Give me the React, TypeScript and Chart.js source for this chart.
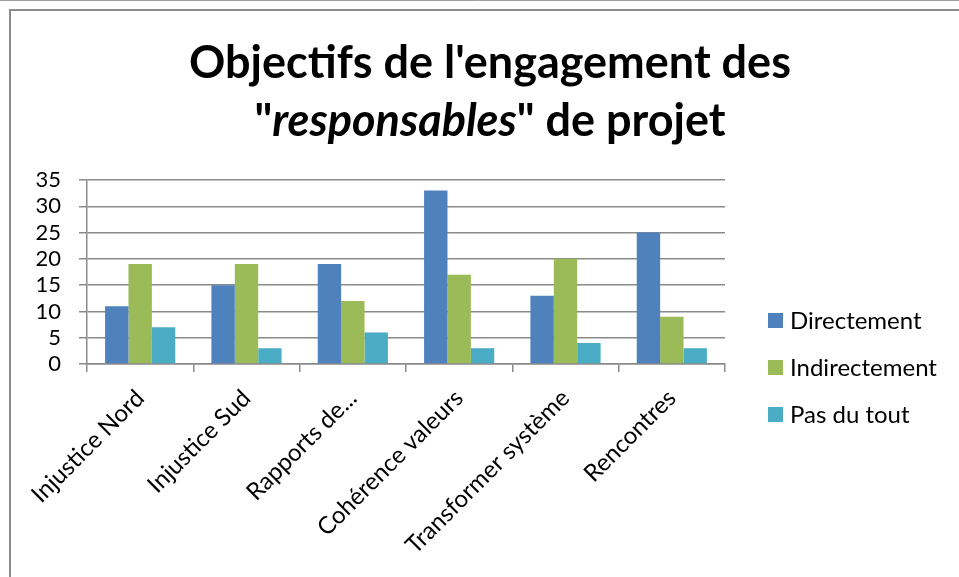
import { useEffect, useRef } from "react";
import { Chart, registerables } from "chart.js";

Chart.register(...registerables);

const categories = [
  "Injustice Nord",
  "Injustice Sud",
  "Rapports de...",
  "Cohérence valeurs",
  "Transformer système",
  "Rencontres",
];
const seriesNames = ["Directement", "Indirectement", "Pas du tout"];
const directement = [11, 15, 19, 33, 13, 25];
const indirectement = [19, 19, 12, 17, 20, 9];
const pasDuTout = [7, 3, 6, 3, 4, 3];
const seriesColors = ["#4F81BD", "#9BBB59", "#4BACC6"];

const yMax = 35;
const yStep = 5;

// Title lines, split in runs so one word can be set in italic
const titleLine1 = [{ text: "Objectifs de l'engagement des", italic: false }];
const titleLine2 = [
  { text: '"', italic: false },
  { text: "responsables", italic: true },
  { text: '" de projet', italic: false },
];

const FONT = "Lato, 'Open Sans', sans-serif";
const GRID = "#8a8a8a";

const framePlugin = {
  id: "frame",
  beforeDraw(chart: any) {
    const { ctx, width, height } = chart;
    ctx.save();
    ctx.fillStyle = "#ffffff";
    ctx.fillRect(0, 0, width, height);
    ctx.strokeStyle = "#a0a0a0";
    ctx.lineWidth = 1;
    ctx.beginPath();
    ctx.moveTo(0, 0.5);
    ctx.lineTo(width, 0.5);
    ctx.stroke();
    ctx.strokeStyle = "#8c8c8c";
    ctx.lineWidth = 2;
    ctx.beginPath();
    ctx.moveTo(10, height);
    ctx.lineTo(10, 10);
    ctx.lineTo(width, 10);
    ctx.stroke();
    ctx.restore();
  },
};

const titlePlugin = {
  id: "mixedTitle",
  afterDraw(chart: any) {
    const { ctx } = chart;
    const cx = 490;
    const size = 45;
    const drawLine = (runs: { text: string; italic: boolean }[], baseline: number) => {
      const fontFor = (it: boolean) => `${it ? "italic " : ""}bold ${size}px ${FONT}`;
      let total = 0;
      const widths = runs.map((r) => {
        ctx.font = fontFor(r.italic);
        const w = ctx.measureText(r.text).width;
        total += w;
        return w;
      });
      let x = cx - total / 2;
      runs.forEach((r, i) => {
        ctx.font = fontFor(r.italic);
        ctx.fillText(r.text, x, baseline);
        x += widths[i];
      });
    };
    ctx.save();
    ctx.fillStyle = "#000000";
    ctx.textAlign = "left";
    ctx.textBaseline = "alphabetic";
    drawLine(titleLine1, 78);
    drawLine(titleLine2, 136);
    ctx.restore();
  },
};

const legendPlugin = {
  id: "sideLegend",
  afterDraw(chart: any) {
    const { ctx } = chart;
    ctx.save();
    ctx.font = `24px ${FONT}`;
    ctx.textAlign = "left";
    ctx.textBaseline = "middle";
    chart.data.datasets.forEach((ds: any, i: number) => {
      const y = 320 + i * 47;
      ctx.fillStyle = ds.backgroundColor;
      ctx.fillRect(768, y - 7, 15, 15);
      ctx.fillStyle = "#000000";
      ctx.fillText(ds.label, 790, y + 1);
    });
    ctx.restore();
  },
};

export default function App() {
  const canvasRef = useRef<HTMLCanvasElement | null>(null);

  useEffect(() => {
    document.body.style.margin = "0";
    const canvas = canvasRef.current;
    if (!canvas) return;
    const values = [directement, indirectement, pasDuTout];
    const chart = new Chart(canvas, {
      type: "bar",
      data: {
        labels: categories,
        datasets: seriesNames.map((name, i) => ({
          label: name,
          data: values[i],
          backgroundColor: seriesColors[i],
          borderWidth: 0,
          categoryPercentage: 0.66,
          barPercentage: 1,
        })),
      },
      options: {
        responsive: false,
        animation: false,
        devicePixelRatio: 1,
        layout: { padding: { left: 0, right: 234, top: 180, bottom: 0 } },
        plugins: {
          legend: { display: false },
          title: { display: false },
          tooltip: { enabled: false },
        },
        scales: {
          x: {
            offset: true,
            grid: {
              offset: true,
              drawOnChartArea: false,
              drawTicks: true,
              tickLength: 8,
              color: GRID,
              lineWidth: 1.5,
            },
            border: { display: true, color: GRID, width: 1.5 },
            ticks: {
              autoSkip: false,
              minRotation: 45,
              maxRotation: 45,
              padding: 12,
              labelOffset: 0,
              color: "#000000",
              font: { family: FONT, size: 24 },
            },
            afterFit(scale: any) {
              scale.height = 213;
            },
          },
          y: {
            min: 0,
            max: yMax,
            grid: {
              drawTicks: true,
              tickLength: 8,
              color: GRID,
              lineWidth: 1.5,
            },
            border: { display: true, color: GRID, width: 1.5 },
            ticks: {
              stepSize: yStep,
              autoSkip: false,
              padding: 18,
              color: "#000000",
              font: { family: FONT, size: 22 },
            },
            afterFit(scale: any) {
              scale.width = 87;
            },
          },
        },
      },
      plugins: [framePlugin, titlePlugin, legendPlugin],
    });
    return () => chart.destroy();
  }, []);

  return (
    <div style={{ width: 959, height: 577 }}>
      <canvas ref={canvasRef} width={959} height={577} />
    </div>
  );
}
